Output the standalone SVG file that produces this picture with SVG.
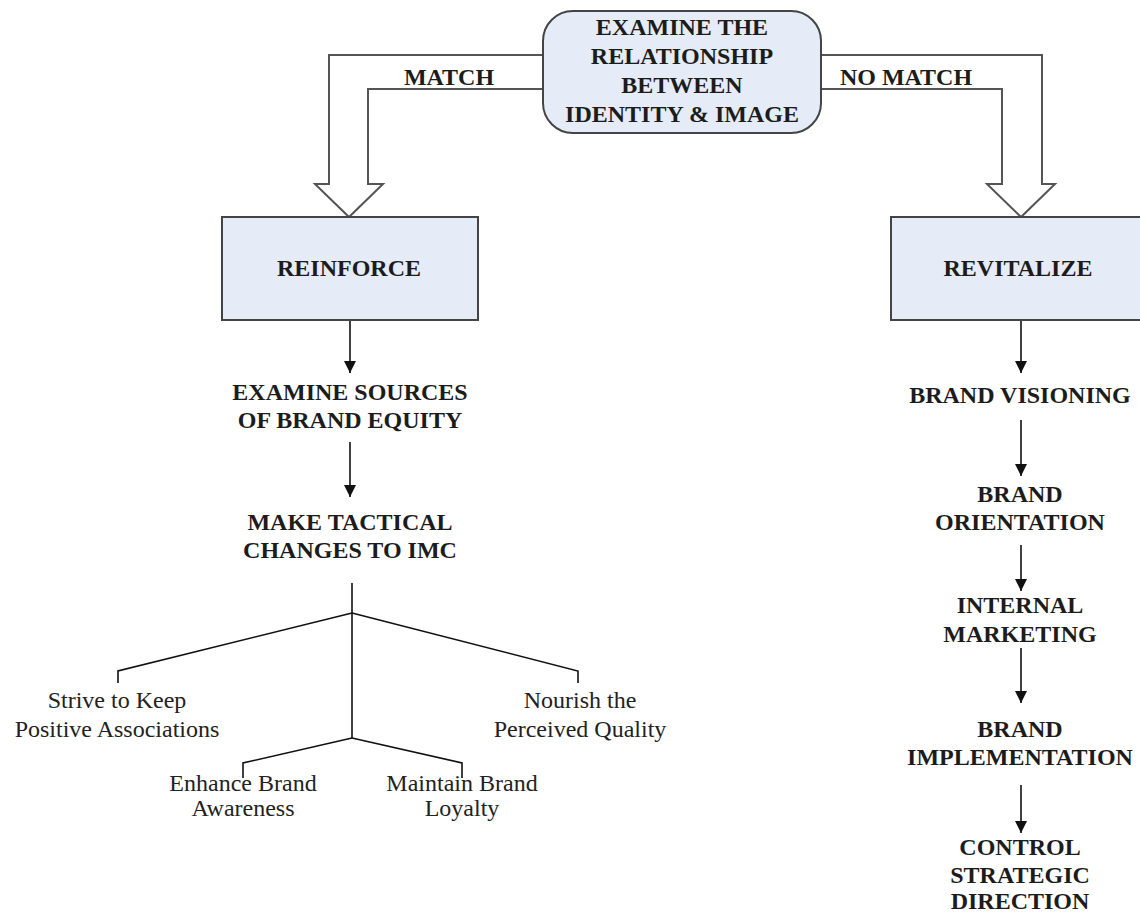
<svg xmlns="http://www.w3.org/2000/svg" width="1140" height="915" viewBox="0 0 1140 915">
<defs>
<style>
.b{font-family:"Liberation Serif","Times New Roman",serif;font-weight:bold;font-size:24px;fill:#1c1c1c;text-anchor:middle}
.r{font-family:"Liberation Serif","Times New Roman",serif;font-size:24px;fill:#222;text-anchor:middle}
.box{fill:#e6ecf7;stroke:#444;stroke-width:2}
.hollow{fill:#fff;stroke:#555;stroke-width:2;stroke-linejoin:miter}
.ln{fill:none;stroke:#111;stroke-width:1.6}
</style>
<marker id="ah" markerWidth="12" markerHeight="12" viewBox="0 0 12 12" refX="12" refY="6" orient="auto" markerUnits="userSpaceOnUse">
<path d="M0,0 L12,6 L0,12 Z" fill="#111"/>
</marker>
</defs>
<rect width="1140" height="915" fill="#fff"/>
<g id="connectors">
<path class="hollow" d="M543,55 L329,55 L329,184 L315,184 L349,217 L383,184 L368,184 L368,89 L543,89"/>
<path class="hollow" d="M821,55 L1042,55 L1042,184 L1055,184 L1021,217 L987,184 L1002,184 L1002,89 L821,89"/>
<text class="b" x="449" y="85">MATCH</text>
<text class="b" x="906" y="85">NO MATCH</text>
<line class="ln" x1="350" y1="321" x2="350" y2="373" marker-end="url(#ah)"/>
<line class="ln" x1="350" y1="442" x2="350" y2="497" marker-end="url(#ah)"/>
<path class="ln" d="M352,583 L352,738"/>
<path class="ln" d="M352,613 L118,671 L118,683"/>
<path class="ln" d="M352,613 L578,671 L578,683"/>
<path class="ln" d="M352,738 L243,763 L243,778"/>
<path class="ln" d="M352,738 L462,763 L462,778"/>
<line class="ln" x1="1021" y1="321" x2="1021" y2="373" marker-end="url(#ah)"/>
<line class="ln" x1="1021" y1="420" x2="1021" y2="476" marker-end="url(#ah)"/>
<line class="ln" x1="1021" y1="545" x2="1021" y2="591" marker-end="url(#ah)"/>
<line class="ln" x1="1021" y1="648" x2="1021" y2="703" marker-end="url(#ah)"/>
<line class="ln" x1="1021" y1="785" x2="1021" y2="833" marker-end="url(#ah)"/>
</g>
<g id="examine">
<rect class="box" x="543" y="11" width="278" height="122" rx="30" ry="30"/>
<text class="b" x="682" y="35">EXAMINE THE</text>
<text class="b" x="682" y="64">RELATIONSHIP</text>
<text class="b" x="682" y="93">BETWEEN</text>
<text class="b" x="682" y="122">IDENTITY &amp; IMAGE</text>
</g>
<g id="reinforce">
<rect class="box" x="222" y="217" width="256" height="103"/>
<text class="b" x="349" y="276">REINFORCE</text>
</g>
<g id="revitalize">
<rect class="box" x="891" y="217" width="262" height="103"/>
<text class="b" x="1018" y="276">REVITALIZE</text>
</g>
<g id="sources">
<text class="b" x="350" y="400">EXAMINE SOURCES</text>
<text class="b" x="350" y="428">OF BRAND EQUITY</text>
</g>
<g id="tactical">
<text class="b" x="350" y="530">MAKE TACTICAL</text>
<text class="b" x="350" y="558">CHANGES TO IMC</text>
</g>
<g id="strive">
<text class="r" x="117" y="708">Strive to Keep</text>
<text class="r" x="117" y="737">Positive Associations</text>
</g>
<g id="nourish">
<text class="r" x="580" y="708">Nourish the</text>
<text class="r" x="580" y="737">Perceived Quality</text>
</g>
<g id="enhance">
<text class="r" x="243" y="791">Enhance Brand</text>
<text class="r" x="243" y="816">Awareness</text>
</g>
<g id="maintain">
<text class="r" x="462" y="791">Maintain Brand</text>
<text class="r" x="462" y="816">Loyalty</text>
</g>
<g id="visioning">
<text class="b" x="1020" y="403">BRAND VISIONING</text>
</g>
<g id="orientation">
<text class="b" x="1020" y="502">BRAND</text>
<text class="b" x="1020" y="530">ORIENTATION</text>
</g>
<g id="internal">
<text class="b" x="1020" y="613">INTERNAL</text>
<text class="b" x="1020" y="642">MARKETING</text>
</g>
<g id="implementation">
<text class="b" x="1020" y="737">BRAND</text>
<text class="b" x="1020" y="765">IMPLEMENTATION</text>
</g>
<g id="control">
<text class="b" x="1020" y="855">CONTROL</text>
<text class="b" x="1020" y="883">STRATEGIC</text>
<text class="b" x="1020" y="909">DIRECTION</text>
</g>
</svg>
